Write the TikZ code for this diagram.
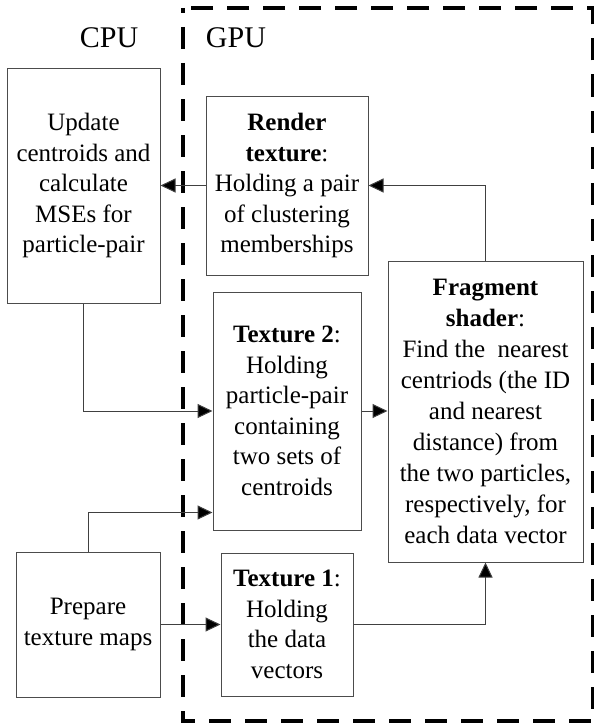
\documentclass[tikz,border=0pt]{standalone}
\usepackage{fontspec}
\setmainfont{Liberation Serif}
\usetikzlibrary{arrows.meta,calc}
\begin{document}
\begin{tikzpicture}[x=1pt,y=-1pt,
  box/.style={draw=black!70,line width=1pt,inner sep=0pt,align=center,
    font=\fontsize{25}{30.5}\selectfont},
  conn/.style={draw=black!75,line width=1pt,-{Triangle[length=15pt,width=14pt,fill=black]}},
  lbl/.style={font=\fontsize{30}{34}\selectfont,inner sep=0pt},
  gpuframe/.style={draw=black,line width=3.2pt,dash pattern=on 22pt off 14pt,dash phase=17pt}]
\useasboundingbox (0,0) rectangle (595,725);
\draw[gpuframe] (183,8) rectangle (592.5,721);
\node[lbl] (cpu) at (109,38) {CPU};
\node[lbl] (gpu) at (236,38) {GPU};
\node[box,minimum width=153pt,minimum height=235pt] (upd) at (83.5,185.5)
  {Update\\centroids and\\calculate\\MSEs for\\particle-pair};
\node[box,minimum width=162pt,minimum height=179pt] (rend) at (287,185.5)
  {\textbf{Render}\\\textbf{texture}:\\Holding a pair\\of clustering\\memberships};
\node[box,minimum width=195pt,minimum height=301pt,font=\fontsize{25}{31}\selectfont] (frag) at (485.5,411.5)
  {\textbf{Fragment}\\\textbf{shader}:\\Find the\ \ nearest\\centriods (the ID\\and nearest\\distance) from\\the two particles,\\respectively, for\\each data vector};
\node[box,minimum width=148pt,minimum height=238pt] (tex2) at (287,411)
  {\textbf{Texture 2}:\\Holding\\particle-pair\\containing\\two sets of\\centroids};
\node[box,minimum width=144pt,minimum height=145pt] (prep) at (88,624.5)
  {Prepare\\texture maps};
\node[box,minimum width=132pt,minimum height=143pt] (tex1) at (287,624.5)
  {\textbf{Texture 1}:\\Holding\\the data\\vectors};
\draw[conn] (rend.west) -- (upd.east);
\draw[conn] (frag.north) |- (rend.east);
\draw[conn] (upd.south) |- (tex2.west);
\draw[conn] (tex2.east) -- (tex2.east -| frag.west);
\draw[conn] (prep.north) |- ([yshift=18pt]tex2.south west);
\draw[conn] (prep.east) -- (tex1.west);
\draw[conn] (tex1.east) -| (frag.south);
\end{tikzpicture}
\end{document}
